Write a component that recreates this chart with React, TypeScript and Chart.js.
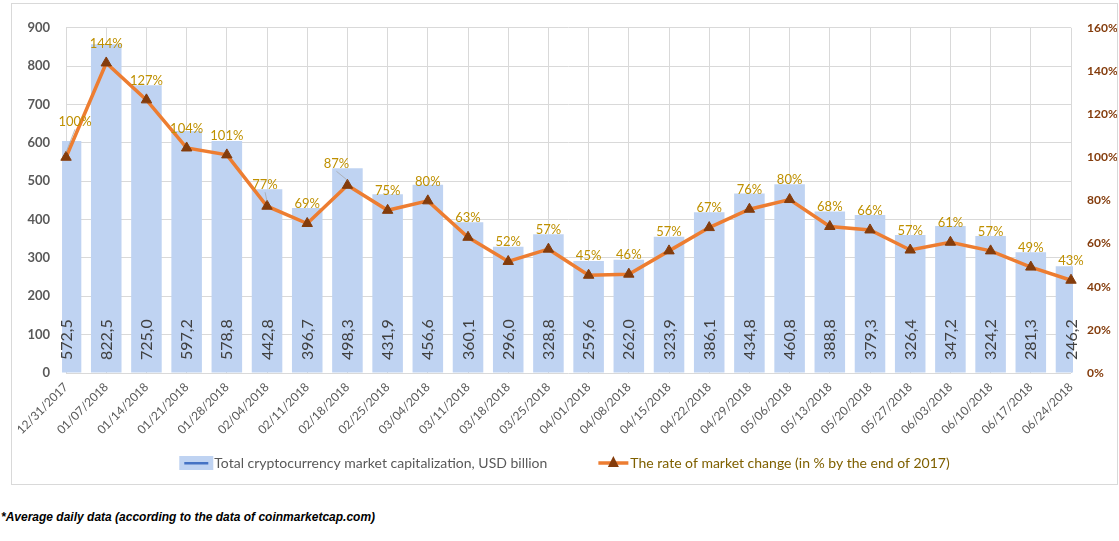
import React, { useEffect, useRef } from "react";
import { Chart, registerables } from "chart.js";

Chart.register(...registerables);

const FONT = "Lato, 'Noto Sans', 'DejaVu Sans', sans-serif";

const categories = [
  "12/31/2017", "01/07/2018", "01/14/2018", "01/21/2018", "01/28/2018", "02/04/2018",
  "02/11/2018", "02/18/2018", "02/25/2018", "03/04/2018", "03/11/2018", "03/18/2018",
  "03/25/2018", "04/01/2018", "04/08/2018", "04/15/2018", "04/22/2018", "04/29/2018",
  "05/06/2018", "05/13/2018", "05/20/2018", "05/27/2018", "06/03/2018", "06/10/2018",
  "06/17/2018", "06/24/2018",
];

// Bar heights as drawn in the picture (USD billion, left axis)
const capitalizationBars = [
  605, 857, 750, 631, 605, 479, 430, 534, 466, 491, 393, 329, 362, 292, 295, 355,
  419, 468, 492, 421, 412, 360, 383, 357, 315, 278,
];

// Value labels printed inside the bars
const capitalizationLabels = [
  "572,5", "822,5", "725,0", "597,2", "578,8", "442,8", "396,7", "498,3", "431,9",
  "456,6", "360,1", "296,0", "328,8", "259,6", "262,0", "323,9", "386,1", "434,8",
  "460,8", "388,8", "379,3", "326,4", "347,2", "324,2", "281,3", "246,2",
];

// Rate of market change, % of end-2017 (right axis)
const rateOfChange = [
  100, 143.7, 126.6, 104.3, 101.1, 77.3, 69.3, 87.0, 75.4, 79.8, 62.9, 51.7, 57.4,
  45.3, 45.8, 56.6, 67.4, 75.9, 80.4, 67.9, 66.3, 57.0, 60.6, 56.6, 49.1, 43.0,
];

const seriesNames = [
  "Total cryptocurrency market capitalization, USD billion",
  "The rate of market change (in % by the end of 2017)",
];

const footnote = "*Average daily data (according to the data of coinmarketcap.com)";

const BAR_COLOR = "#BFD3F2";
const LINE_COLOR = "#ED7D31";
const MARKER_COLOR = "#843C0C";
const GRID = "#D9D9D9";

const valueLabelsPlugin = {
  id: "valueLabels",
  afterDatasetsDraw(chart: any) {
    const ctx = chart.ctx;
    const barMeta = chart.getDatasetMeta(0);
    const lineMeta = chart.getDatasetMeta(1);
    const yBase = chart.scales.y.getPixelForValue(0);
    ctx.save();
    ctx.font = `16px ${FONT}`;
    ctx.fillStyle = "#404040";
    ctx.textAlign = "left";
    ctx.textBaseline = "middle";
    barMeta.data.forEach((el: any, i: number) => {
      ctx.save();
      ctx.translate(el.x + 0.5, yBase - 13);
      ctx.rotate(-Math.PI / 2);
      ctx.fillText(capitalizationLabels[i], 0, 0);
      ctx.restore();
    });
    ctx.font = `13px ${FONT}`;
    ctx.fillStyle = "#BF9000";
    ctx.textAlign = "center";
    lineMeta.data.forEach((pt: any, i: number) => {
      let dx = 0;
      let dy = -19.5;
      if (i === 0) {
        dx = 9;
        dy = -35;
      } else if (i === 7) {
        dx = -11;
        dy = -21;
      } else if (i === 5) {
        dx = -2;
        dy = -21;
      }
      if (i === 0 || i === 7 || i === 5) {
        ctx.save();
        ctx.strokeStyle = "#A6A6A6";
        ctx.lineWidth = 0.75;
        ctx.beginPath();
        ctx.moveTo(pt.x + dx, pt.y + dy + 7);
        ctx.lineTo(pt.x, pt.y - 5);
        ctx.stroke();
        ctx.restore();
      }
      ctx.fillText(Math.round(rateOfChange[i]) + "%", pt.x + dx, pt.y + dy);
    });
    ctx.restore();
  },
};

const legendPlugin = {
  id: "customLegend",
  afterDraw(chart: any) {
    const ctx = chart.ctx;
    ctx.save();
    ctx.font = `14px ${FONT}`;
    ctx.textBaseline = "middle";
    ctx.textAlign = "left";
    const w1 = ctx.measureText(seriesNames[0]).width;
    const w2 = ctx.measureText(seriesNames[1]).width;
    const box1 = 34;
    const box2 = 30;
    const gapBetween = 51;
    const total = box1 + 1 + w1 + gapBetween + box2 + 2 + w2;
    let x = chart.width / 2 - total / 2;
    const y = 459;
    // item 1
    ctx.fillStyle = BAR_COLOR;
    ctx.fillRect(x, y - 7, box1, 14);
    ctx.fillStyle = "#4472C4";
    ctx.fillRect(x + 5, y - 1, box1 - 10, 2.5);
    x += box1 + 1;
    ctx.fillStyle = "#595959";
    ctx.fillText(seriesNames[0], x, y);
    x += w1 + gapBetween;
    // item 2
    ctx.strokeStyle = LINE_COLOR;
    ctx.lineWidth = 3.5;
    ctx.beginPath();
    ctx.moveTo(x, y);
    ctx.lineTo(x + box2, y);
    ctx.stroke();
    const cx = x + box2 / 2;
    ctx.fillStyle = MARKER_COLOR;
    ctx.beginPath();
    ctx.moveTo(cx, y - 7);
    ctx.lineTo(cx + 5.5, y + 4);
    ctx.lineTo(cx - 5.5, y + 4);
    ctx.closePath();
    ctx.fill();
    x += box2 + 2;
    ctx.fillStyle = "#7F6000";
    ctx.fillText(seriesNames[1], x, y);
    ctx.restore();
  },
};

export default function App() {
  const canvasRef = useRef<HTMLCanvasElement | null>(null);

  useEffect(() => {
    if (!canvasRef.current) return;
    Chart.defaults.font.family = FONT;
    const chart = new Chart(canvasRef.current, {
      type: "bar",
      data: {
        labels: categories,
        datasets: [
          {
            type: "bar",
            label: seriesNames[0],
            data: capitalizationBars,
            backgroundColor: BAR_COLOR,
            borderWidth: 0,
            categoryPercentage: 1,
            barPercentage: 0.76,
            yAxisID: "y",
            order: 2,
            clip: { left: 4, right: 2, top: 30, bottom: 0 } as any,
          },
          {
            type: "line",
            label: seriesNames[1],
            data: rateOfChange,
            borderColor: LINE_COLOR,
            borderWidth: 3.5,
            tension: 0,
            pointStyle: "triangle",
            pointRadius: 6,
            pointBackgroundColor: MARKER_COLOR,
            pointBorderColor: MARKER_COLOR,
            pointBorderWidth: 1,
            yAxisID: "y1",
            order: 1,
            clip: false as any,
          },
        ],
      },
      options: {
        animation: false,
        responsive: true,
        maintainAspectRatio: false,
        devicePixelRatio: 1,
        layout: { padding: { top: 15, left: 0, right: 0, bottom: 0 } },
        plugins: {
          legend: { display: false },
          tooltip: { enabled: false },
        },
        scales: {
          x: {
            offset: false,
            grid: { color: GRID, lineWidth: 1, drawTicks: false, offset: false },
            border: { display: false },
            ticks: {
              autoSkip: false,
              maxRotation: 45,
              minRotation: 45,
              padding: 7,
              color: "#595959",
              font: { size: 12, family: FONT },
            },
            afterFit: (scale: any) => {
              scale.height = 111;
            },
          },
          y: {
            position: "left",
            min: 0,
            max: 900,
            grid: { color: GRID, lineWidth: 1, drawTicks: false },
            border: { display: false },
            ticks: {
              stepSize: 100,
              padding: 16,
              color: "#595959",
              font: { size: 13, weight: "bold", family: FONT },
            },
            afterFit: (scale: any) => {
              scale.width = 54;
            },
          },
          y1: {
            position: "right",
            min: 0,
            max: 160,
            grid: { drawOnChartArea: false, drawTicks: false },
            border: { display: false },
            ticks: {
              stepSize: 20,
              padding: 16,
              color: MARKER_COLOR,
              font: { size: 12, weight: "bold", family: FONT },
              callback: (v: any) => v + "%",
            },
            afterFit: (scale: any) => {
              scale.width = 46;
            },
          },
        },
      },
      plugins: [valueLabelsPlugin, legendPlugin],
    } as any);
    return () => chart.destroy();
  }, []);

  return (
    <div
      style={{
        position: "absolute",
        left: 0,
        top: 0,
        width: 1119,
        height: 541,
        background: "#fff",
        overflow: "hidden",
      }}
    >
      <div
        style={{
          position: "absolute",
          left: 11,
          top: 3,
          width: 1107,
          height: 482,
          border: "1px solid #D9D9D9",
          boxSizing: "border-box",
        }}
      >
        <div style={{ position: "absolute", left: 0, top: 0, width: 1105, height: 480 }}>
          <canvas ref={canvasRef} />
        </div>
      </div>
      <div
        style={{
          position: "absolute",
          left: 1,
          top: 510,
          fontFamily: "'Liberation Sans', Arial, sans-serif",
          fontSize: 12,
          fontWeight: "bold",
          fontStyle: "italic",
          color: "#000",
          whiteSpace: "nowrap",
          lineHeight: "14px",
        }}
      >
        {footnote}
      </div>
    </div>
  );
}
